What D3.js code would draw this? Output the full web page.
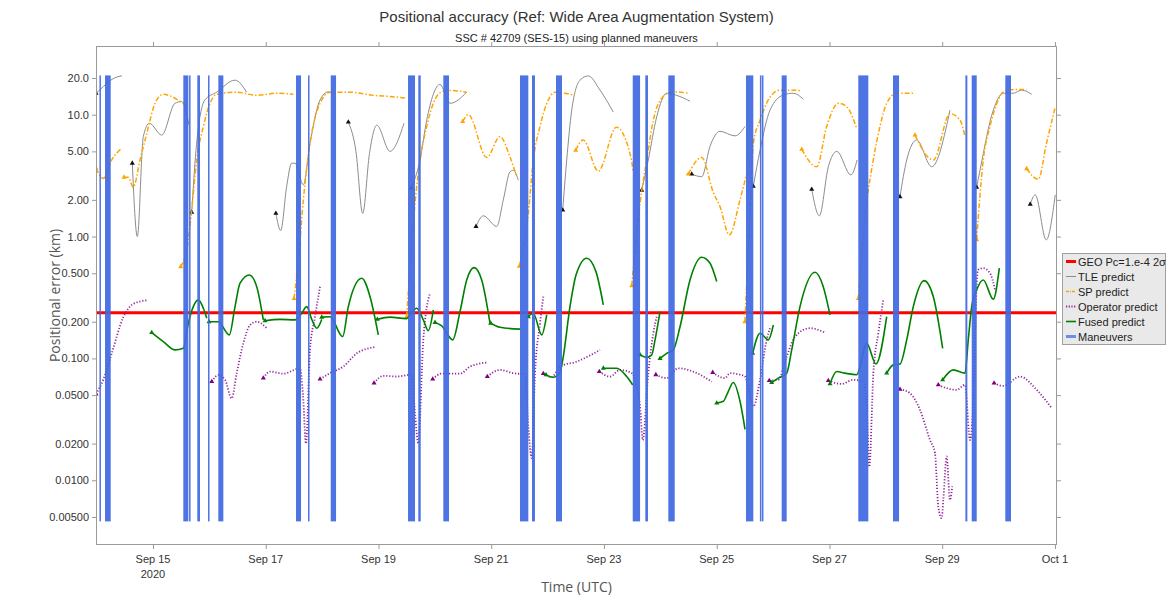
<!DOCTYPE html>
<html><head><meta charset="utf-8">
<script src="https://cdn.jsdelivr.net/npm/d3@7"></script>
<style>
html,body{margin:0;padding:0;background:#fff;}
svg{display:block;font-family:"Liberation Sans",Arial,sans-serif;}
</style></head><body>
<svg id="chart" width="1175" height="602"></svg>
<script>
// ---------------- DATA (time = decimal day of September 2020, UTC; value = km) ----------------
const titleText = "Positional accuracy (Ref: Wide Area Augmentation System)";
const subtitleText = "SSC # 42709 (SES-15) using planned maneuvers";
const yAxisTitle = "Positional error (km)";
const xAxisTitle = "Time (UTC)";

const gccThreshold = 0.237;

const yTickValues = [20, 10, 5, 2, 1, 0.5, 0.2, 0.1, 0.05, 0.02, 0.01, 0.005];
const yTickLabels = ["20.0", "10.0", "5.00", "2.00", "1.00", "0.500", "0.200", "0.100", "0.0500", "0.0200", "0.0100", "0.00500"];
const xTickDays = [15, 17, 19, 21, 23, 25, 27, 29, 31];
const xTickLabels = ["Sep 15", "Sep 17", "Sep 19", "Sep 21", "Sep 23", "Sep 25", "Sep 27", "Sep 29", "Oct 1"];
const xTickSubLabels = ["2020", "", "", "", "", "", "", "", ""];

const legendLabels = ["GEO Pc=1.e-4 2\u03c3", "TLE predict", "SP predict", "Operator predict", "Fused predict", "Maneuvers"];

const maneuverWindows = [
  [14.05, 14.065], [14.149, 14.25],
  [15.538, 15.627], [15.64, 15.657], [15.786, 15.834], [15.976, 15.994], [16.159, 16.248],
  [17.537, 17.626], [17.75, 17.768], [18.153, 18.247],
  [19.524, 19.648], [19.706, 19.749], [20.15, 20.251],
  [21.51, 21.658], [21.723, 21.776], [22.149, 22.255],
  [23.51, 23.64], [23.733, 23.781], [24.141, 24.255],
  [25.519, 25.649], [25.766, 25.784], [25.802, 25.819], [26.152, 26.241],
  [27.511, 27.689], [28.127, 28.234],
  [29.411, 29.446], [29.523, 29.612], [30.119, 30.22]
];
const maneuverSpan = [0.0046, 21];

const tleSegments = [
  [[13.99,15.0],[14.12,17.0],[14.25,19.2],[14.38,20.5],[14.45,20.8]],
  [[14.633,4.0],[14.722,1.0],[14.828,6.6],[14.935,8.5],[15.155,6.8],[15.39,12.4],[15.51,12.8],[15.64,8.2]],
  [[15.687,1.58],[15.763,5.1],[15.92,13.2],[16.13,15.3],[16.455,19.2],[16.66,15.3]],
  [[17.18,1.55],[17.266,1.12],[17.37,2.56],[17.46,4.0],[17.52,4.0],[17.667,2.65],[17.785,5.8],[17.963,13.2],[18.11,15.4],[18.18,14.8]],
  [[18.465,8.7],[18.6,5.0],[18.72,1.55],[18.84,4.8],[18.97,8.2],[19.204,5.0],[19.453,8.5]],
  [[19.58,2.5],[19.737,4.25],[19.855,9.0],[20.09,17.7],[20.27,12.4],[20.565,15.3]],
  [[20.73,1.21],[20.86,1.48],[21.097,1.21],[21.214,2.0],[21.333,3.4],[21.39,3.5],[21.48,2.9]],
  [[22.268,1.65],[22.339,4.25],[22.428,10.9],[22.575,19.2],[22.722,20.8],[22.93,15.9],[23.166,10.5]],
  [[23.669,2.4],[23.786,4.25],[23.935,9.6],[24.112,15.0],[24.29,14.4],[24.526,12.9]],
  [[24.556,3.25],[24.734,3.1],[24.881,5.5],[25.058,7.3],[25.324,6.7],[25.502,8.0]],
  [[25.649,2.58],[25.768,5.1],[25.945,10.9],[26.18,14.5],[26.358,15.0],[26.536,13.4]],
  [[26.685,2.44],[26.82,1.48],[26.98,3.74],[27.13,5.0],[27.38,3.2],[27.49,4.25]],
  [[28.25,2.12],[28.37,4.25],[28.547,6.2],[28.813,3.74],[29.138,10.9]],
  [[29.611,2.54],[29.67,3.5],[29.906,10.9],[30.083,15.0],[30.26,15.0],[30.41,15.9],[30.587,14.7]],
  [[30.561,1.84],[30.65,2.2],[30.845,0.94],[31.005,2.2]]
];

const spSegments = [
  [[13.99,3.63],[14.119,3.0],[14.268,4.25],[14.445,5.3]],
  [[14.486,3.07],[14.562,3.07],[14.651,2.54],[14.77,4.25],[14.889,7.0],[15.036,12.4],[15.183,14.7],[15.332,14.1],[15.479,12.9],[15.598,12.0]],
  [[15.492,0.566],[15.627,0.94],[15.687,1.66],[15.776,4.25],[15.893,8.0],[16.012,12.4],[16.13,14.7],[16.485,15.3],[16.84,14.4],[17.195,15.0],[17.49,14.7]],
  [[17.502,0.31],[17.578,0.64],[17.667,2.0],[17.785,5.8],[17.963,12.4],[18.14,15.3],[18.495,15.3],[18.908,14.4],[19.204,14.1],[19.47,13.7]],
  [[19.5,0.22],[19.648,1.88],[19.737,4.25],[19.855,8.0],[19.973,12.4],[20.122,15.4],[20.27,15.8],[20.565,15.3]],
  [[20.494,8.8],[20.593,10.0],[20.92,4.46],[21.156,6.6],[21.333,4.5],[21.452,3.1]],
  [[21.498,0.57],[21.658,1.55],[21.746,4.25],[21.865,8.0],[22.012,13.2],[22.131,15.3],[22.486,14.4]],
  [[22.498,5.1],[22.633,6.2],[22.899,3.44],[23.22,7.9],[23.488,4.25],[23.51,3.5]],
  [[23.492,0.395],[23.64,1.88],[23.758,4.25],[23.875,9.0],[24.052,14.1],[24.23,15.4],[24.496,15.0]],
  [[24.496,3.25],[24.733,4.46],[24.939,2.3],[25.058,1.76],[25.223,1.03],[25.413,2.0],[25.53,3.25]],
  [[25.5,0.2],[25.58,1.2],[25.649,5.8],[25.768,9.0],[25.915,13.2],[26.12,15.9],[26.48,15.8]],
  [[26.508,5.2],[26.774,3.74],[26.951,8.0],[27.157,12.4],[27.306,11.6],[27.483,7.7]],
  [[27.511,0.31],[27.66,1.88],[27.777,4.25],[27.896,8.0],[28.015,12.4],[28.192,15.0],[28.487,15.0]],
  [[28.517,6.8],[28.842,4.25],[29.138,10.2],[29.316,9.0],[29.405,6.6]],
  [[29.611,0.94],[29.728,4.25],[29.847,8.0],[29.995,13.2],[30.083,15.4],[30.26,16.1],[30.498,16.1]],
  [[30.498,3.6],[30.704,2.95],[30.849,5.8],[31.0,11.3]]
];

const operatorSegments = [
  [[13.99,0.051],[14.119,0.067],[14.268,0.11],[14.474,0.218],[14.651,0.28],[14.889,0.30]],
  [[16.042,0.0645],[16.159,0.073],[16.278,0.0667],[16.396,0.047],[16.485,0.0757],[16.602,0.133],[16.721,0.188],[16.84,0.2],[17.017,0.177]],
  [[16.957,0.069],[17.076,0.078],[17.312,0.075],[17.608,0.083],[17.661,0.05],[17.714,0.02],[17.785,0.1175],[17.874,0.22],[17.963,0.388]],
  [[17.963,0.0676],[18.14,0.0757],[18.376,0.0857],[18.614,0.11],[18.938,0.124]],
  [[18.921,0.0627],[19.086,0.072],[19.323,0.071],[19.589,0.0735],[19.648,0.0355],[19.706,0.0201],[19.795,0.142],[19.914,0.343]],
  [[19.962,0.0676],[20.122,0.075],[20.446,0.075],[20.624,0.0857],[20.92,0.0925]],
  [[20.93,0.071],[21.156,0.0805],[21.392,0.0757],[21.6,0.0735],[21.658,0.0275],[21.718,0.0152],[21.777,0.0757],[21.865,0.1945],[21.924,0.321]],
  [[21.924,0.075],[22.073,0.0702],[22.22,0.0857],[22.516,0.0942],[22.93,0.1175]],
  [[22.917,0.078],[23.107,0.071],[23.284,0.0805],[23.492,0.0757],[23.64,0.0403],[23.687,0.0214],[23.786,0.0757],[23.875,0.161],[23.935,0.22]],
  [[23.92,0.0735],[24.11,0.069],[24.316,0.083],[24.582,0.078],[24.911,0.0645]],
  [[24.929,0.0766],[25.147,0.069],[25.236,0.0757],[25.413,0.0735],[25.502,0.071],[25.59,0.0487],[25.649,0.0403],[25.768,0.0667],[25.886,0.142],[25.945,0.177]],
  [[25.932,0.0658],[26.092,0.0667],[26.241,0.1035],[26.388,0.151],[26.654,0.177],[26.92,0.163]],
  [[26.979,0.0658],[27.217,0.0618],[27.423,0.0667],[27.6,0.0645],[27.66,0.0403],[27.707,0.0129],[27.778,0.0757],[27.866,0.161],[27.955,0.302]],
  [[28.251,0.0558],[28.428,0.0518],[28.606,0.0378],[28.783,0.0214],[28.872,0.0167],[28.93,0.00608],[28.991,0.00489],[29.019,0.0069],[29.079,0.0157],[29.137,0.0069],[29.178,0.0089]],
  [[28.93,0.0607],[29.079,0.057],[29.256,0.0552],[29.404,0.0607],[29.493,0.0214],[29.564,0.0667],[29.6,0.302],[29.635,0.532],[29.724,0.55],[29.848,0.5],[29.937,0.365]],
  [[29.92,0.0627],[30.083,0.0595],[30.379,0.071],[30.676,0.0552],[30.942,0.0391]]
];

const fusedSegments = [
  [[14.977,0.163],[15.183,0.1375],[15.391,0.1175],[15.538,0.121],[15.627,0.1945],[15.715,0.266],[15.804,0.302],[15.893,0.258],[15.953,0.214]],
  [[15.994,0.2],[16.159,0.2],[16.354,0.156],[16.455,0.266],[16.544,0.414],[16.709,0.484],[16.84,0.388],[16.957,0.207]],
  [[16.987,0.204],[17.253,0.209],[17.519,0.207],[17.638,0.235],[17.727,0.266],[17.816,0.209],[17.904,0.177],[17.993,0.209]],
  [[17.993,0.218],[18.14,0.22],[18.365,0.151],[18.465,0.266],[18.703,0.455],[18.85,0.321],[18.997,0.156]],
  [[18.979,0.209],[19.204,0.218],[19.488,0.212],[19.678,0.258],[19.795,0.207],[19.884,0.169],[19.973,0.25]],
  [[20.003,0.197],[20.122,0.185],[20.317,0.142],[20.446,0.242],[20.565,0.44],[20.695,0.556],[20.831,0.44],[20.978,0.1945]],
  [[20.99,0.1945],[21.156,0.18],[21.511,0.174]],
  [[21.658,0.22],[21.746,0.235],[21.895,0.156],[21.984,0.228]],
  [[21.972,0.0733],[22.096,0.07],[22.22,0.0768],[22.273,0.1],[22.397,0.266],[22.504,0.484],[22.694,0.664],[22.859,0.513],[22.988,0.275]],
  [[22.988,0.083],[23.226,0.083],[23.403,0.071],[23.51,0.0605]],
  [[23.64,0.107],[23.758,0.102],[23.847,0.107],[23.906,0.142],[23.994,0.242]],
  [[23.994,0.1],[24.113,0.11],[24.23,0.1175],[24.349,0.182],[24.526,0.44],[24.733,0.676],[24.881,0.604],[25.0,0.427]],
  [[25.0,0.043],[25.117,0.0445],[25.2,0.053],[25.294,0.0635],[25.413,0.0445],[25.502,0.0262]],
  [[25.638,0.11],[25.768,0.161],[25.915,0.142],[26.004,0.188]],
  [[25.975,0.0634],[26.092,0.069],[26.241,0.0757],[26.33,0.1175],[26.477,0.266],[26.743,0.509],[26.89,0.388],[27.009,0.228]],
  [[27.009,0.0618],[27.128,0.078],[27.275,0.0757],[27.483,0.0735],[27.66,0.133],[27.825,0.09],[28.015,0.22]],
  [[28.015,0.0757],[28.132,0.0885],[28.251,0.09],[28.37,0.142],[28.487,0.266],[28.677,0.435],[28.842,0.321],[29.008,0.121]],
  [[29.008,0.0667],[29.196,0.0805],[29.404,0.0757],[29.462,0.142],[29.523,0.266],[29.611,0.365],[29.728,0.44],[29.906,0.306],[30.013,0.55]]
];

// ---------------- DRAWING ----------------
const toDate = d => new Date(Date.UTC(2020, 8, 1) + (d - 1) * 864e5);
const L = 96, R = 1057, T = 46, B = 545;
const svg = d3.select("#chart");

const x = d3.scaleUtc().domain([toDate(13.989), toDate(31.036)]).range([L, R]);
const y = d3.scaleLog().domain([0.002945, 36.6]).range([B, T]);

svg.append("rect").attr("width", 1175).attr("height", 602).attr("fill", "#fff");

svg.append("defs").append("clipPath").attr("id", "clip")
  .append("rect").attr("x", L).attr("y", T).attr("width", R - L).attr("height", B - T);

const plot = svg.append("g").attr("clip-path", "url(#clip)");

plot.append("line")
  .attr("x1", L).attr("x2", R)
  .attr("y1", y(gccThreshold)).attr("y2", y(gccThreshold))
  .attr("stroke", "#ff0000").attr("stroke-width", 3);

const line = d3.line()
  .x(d => x(toDate(d[0])))
  .y(d => y(d[1]))
  .curve(d3.curveMonotoneX);

const styles = {
  tle: {color: "#8c8c8c", width: 1, dash: null, marker: "#111"},
  sp: {color: "#ffa500", width: 1.5, dash: "5,2,1.5,2", marker: "#ffa500"},
  op: {color: "#92289a", width: 1.8, dash: "1.2,1.8", marker: "#800080"},
  fused: {color: "#008000", width: 1.6, dash: null, marker: "#008000"}
};

function drawSeries(segs, st, cls) {
  const g = plot.append("g").attr("class", cls);
  g.selectAll("path.ln").data(segs).join("path").attr("class", "ln")
    .attr("d", line).attr("fill", "none")
    .attr("stroke", st.color).attr("stroke-width", st.width)
    .attr("stroke-dasharray", st.dash);
  g.selectAll("path.mk").data(segs).join("path").attr("class", "mk")
    .attr("transform", s => `translate(${x(toDate(s[0][0]))},${y(s[0][1])})`)
    .attr("d", d3.symbol(d3.symbolTriangle, 11))
    .attr("fill", st.marker);
}
drawSeries(tleSegments, styles.tle, "tle");
drawSeries(spSegments, styles.sp, "sp");
drawSeries(operatorSegments, styles.op, "op");
drawSeries(fusedSegments, styles.fused, "fused");

plot.append("g").selectAll("rect").data(maneuverWindows).join("rect")
  .attr("x", d => x(toDate(d[0])))
  .attr("width", d => Math.max(1.5, x(toDate(d[1])) - x(toDate(d[0]))))
  .attr("y", y(maneuverSpan[1]))
  .attr("height", y(maneuverSpan[0]) - y(maneuverSpan[1]))
  .attr("fill", "#4169e1").attr("opacity", 0.93);

// frame
svg.append("rect").attr("x", L + 0.5).attr("y", T + 0.5).attr("width", R - L - 1).attr("height", B - T - 1)
  .attr("fill", "none").attr("stroke", "#9a9a9a");

// axes
const axisStyle = g => {
  g.select(".domain").remove();
  g.selectAll(".tick line").attr("stroke", "#9a9a9a");
  g.attr("font-family", "'Liberation Sans', Arial, sans-serif").attr("font-size", 11);
  g.selectAll(".tick text").attr("fill", "#333");
};
svg.append("g").attr("transform", `translate(${L},0)`)
  .call(d3.axisLeft(y).tickValues(yTickValues).tickFormat((d, i) => yTickLabels[i]).tickSize(4).tickPadding(3))
  .call(axisStyle);
svg.append("g").attr("transform", `translate(${R},0)`)
  .call(d3.axisRight(y).tickValues(yTickValues).tickFormat("").tickSize(4))
  .call(axisStyle);
const xTickDates = xTickDays.map(toDate);
svg.append("g").attr("transform", `translate(0,${T})`)
  .call(d3.axisTop(x).tickValues(xTickDates).tickFormat("").tickSize(4))
  .call(axisStyle);
svg.append("g").attr("transform", `translate(0,${B})`)
  .call(d3.axisBottom(x).tickValues(xTickDates).tickFormat("").tickSize(4))
  .call(axisStyle);
const xl = svg.append("g").attr("font-family", "'Liberation Sans', Arial, sans-serif")
  .attr("font-size", 11).attr("fill", "#333").attr("text-anchor", "middle");
xTickDates.forEach((d, i) => {
  xl.append("text").attr("x", x(d)).attr("y", B + 18).text(xTickLabels[i]);
  if (xTickSubLabels[i]) xl.append("text").attr("x", x(d)).attr("y", B + 33).text(xTickSubLabels[i]);
});

// titles
svg.append("text").attr("x", (L + R) / 2).attr("y", 22).attr("text-anchor", "middle")
  .attr("font-size", 15).attr("fill", "#333").text(titleText);
svg.append("text").attr("x", (L + R) / 2).attr("y", 42).attr("text-anchor", "middle")
  .attr("font-size", 11).attr("fill", "#222").text(subtitleText);
svg.append("text").attr("transform", `translate(60,${(T + B) / 2}) rotate(-90)`).attr("text-anchor", "middle")
  .attr("font-family", "'Open Sans', sans-serif").attr("font-size", 14).attr("fill", "#555").text(yAxisTitle);
svg.append("text").attr("x", (L + R) / 2).attr("y", 592).attr("text-anchor", "middle")
  .attr("font-family", "'Open Sans', sans-serif").attr("font-size", 14).attr("fill", "#555").text(xAxisTitle);

// legend
const lg = svg.append("g").attr("transform", "translate(1062,253)");
lg.append("rect").attr("x", 0.5).attr("y", 0.5).attr("width", 103).attr("height", 91)
  .attr("fill", "#e9e9e9").attr("stroke", "#a0a0a0");
const legendStyles = [
  {color: "#ff0000", width: 3, dash: null},
  {color: "#8c8c8c", width: 1, dash: null},
  {color: "#ffa500", width: 1.5, dash: "3,1,1,1"},
  {color: "#92289a", width: 1.8, dash: "1.2,1.5"},
  {color: "#008000", width: 1.6, dash: null},
  {color: "#6d8de8", width: 3, dash: null}
];
legendLabels.forEach((lab, i) => {
  const cy = 8.5 + i * 15;
  const st = legendStyles[i];
  lg.append("line").attr("x1", 4).attr("x2", 14).attr("y1", cy).attr("y2", cy)
    .attr("stroke", st.color).attr("stroke-width", st.width).attr("stroke-dasharray", st.dash);
  lg.append("text").attr("x", 16).attr("y", cy + 4).attr("font-size", 11).attr("fill", "#222").text(lab);
});
</script></body></html>
